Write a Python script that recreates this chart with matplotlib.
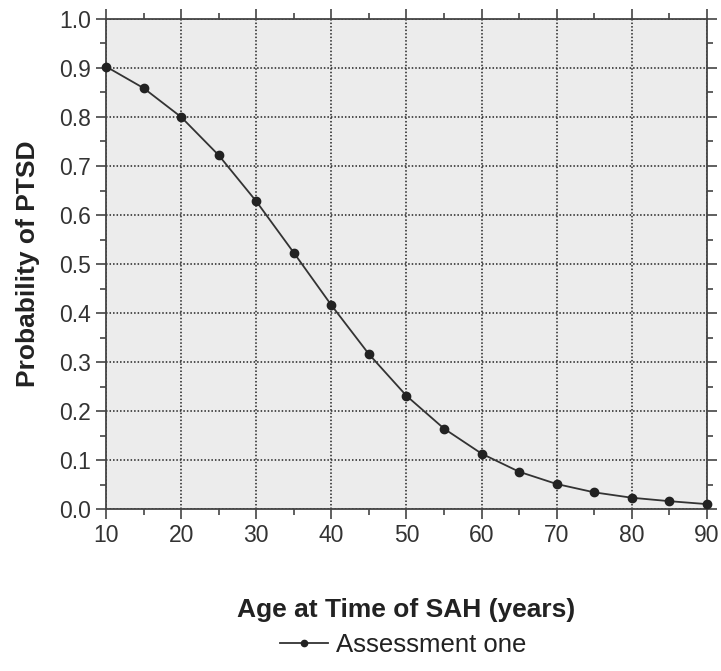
import matplotlib
matplotlib.use("Agg")
import matplotlib.pyplot as plt
from matplotlib.ticker import MultipleLocator, FormatStrFormatter
from matplotlib.lines import Line2D

plt.rcParams["font.family"] = ["Liberation Sans", "DejaVu Sans"]

# Predicted probability of PTSD by age at SAH
ages = [10, 15, 20, 25, 30, 35, 40, 45, 50, 55, 60, 65, 70, 75, 80, 85, 90]
prob_ptsd = [0.903, 0.859, 0.800, 0.722, 0.628, 0.523, 0.416, 0.316, 0.231,
             0.164, 0.113, 0.076, 0.051, 0.034, 0.023, 0.016, 0.010]
series_label = "Assessment one"

ink = "#333333"

fig = plt.figure(figsize=(7.21, 6.71), dpi=100)
ax = fig.add_axes([0.147, 0.2414, 0.8336, 0.7303])
ax.set_facecolor("#ececec")

ax.plot(ages, prob_ptsd, color=ink, linewidth=1.3, marker="o",
        markersize=6, markerfacecolor="#222222", markeredgecolor="#222222",
        clip_on=False, zorder=3)

ax.set_xlim(10, 90)
ax.set_ylim(0, 1.0)
ax.xaxis.set_major_locator(MultipleLocator(10))
ax.xaxis.set_minor_locator(MultipleLocator(5))
ax.yaxis.set_major_locator(MultipleLocator(0.1))
ax.yaxis.set_minor_locator(MultipleLocator(0.05))
ax.yaxis.set_major_formatter(FormatStrFormatter("%.1f"))

ax.grid(True, which="major", color="#222222", linestyle=(0, (1, 1.3)),
        linewidth=1.1, zorder=1)
ax.set_axisbelow(True)

for side in ax.spines.values():
    side.set_color("#444444")
    side.set_linewidth(1.3)

ax.tick_params(which="both", direction="out", colors="#444444",
               top=True, right=True, labeltop=False, labelright=False,
               labelsize=16.5, labelcolor=ink, width=1.2)
ax.tick_params(which="major", length=7, pad=4)
ax.tick_params(which="minor", length=4)

ax.set_xlabel("Age at Time of SAH (years)", fontsize=19, fontweight="bold",
              color="#222222", va="center")
ax.xaxis.set_label_coords(0.5, -0.206)
ax.set_ylabel("Probability of PTSD", fontsize=19, fontweight="bold",
              color="#222222", va="center")
ax.yaxis.set_label_coords(-0.13, 0.5)

handle = Line2D([], [], color=ink, linewidth=1.3, marker="o", markersize=4.5,
                markerfacecolor="#222222", markeredgecolor="#222222")
fig.legend([handle], [series_label], loc="center", bbox_to_anchor=(0.559, 0.039),
           frameon=False, fontsize=18.5, handlelength=1.9, handletextpad=0.3,
           labelcolor="#222222")

fig.savefig("out.png", dpi=100, facecolor="white")
